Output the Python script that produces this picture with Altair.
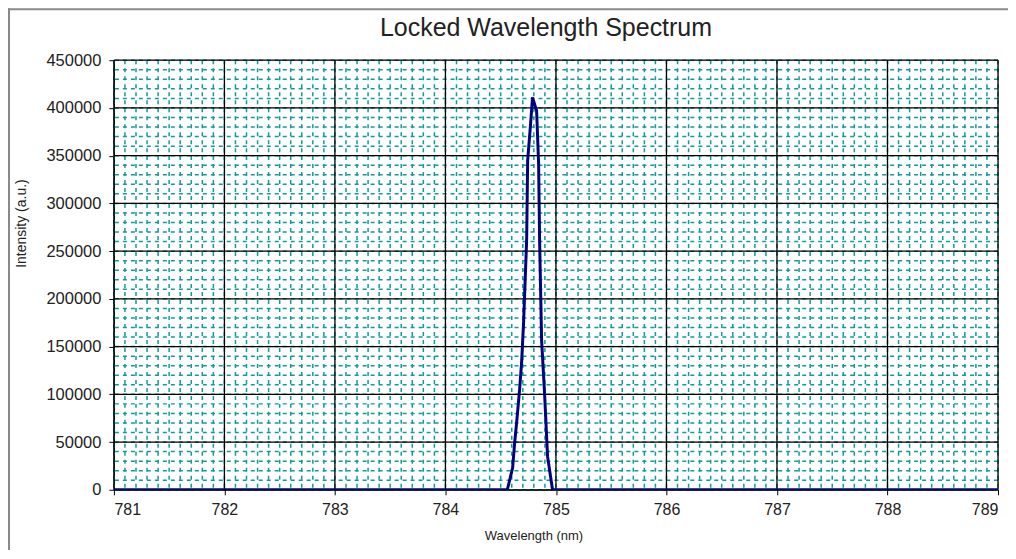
import altair as alt
import pandas as pd

# ---- data ----
wavelength = [781.0, 784.56, 784.608, 784.626, 784.644, 784.671, 784.689, 784.707,
              784.735, 784.744, 784.771, 784.788, 784.825, 784.843, 784.852,
              784.870, 784.897, 784.924, 784.969, 789.0]
intensity = [0, 0, 23000, 49000, 70000, 105000, 133000, 175000,
             262000, 345000, 384000, 411000, 397000, 342000, 262000,
             157000, 101000, 35000, 0, 0]

x_ticks = [781, 782, 783, 784, 785, 786, 787, 788, 789]
y_ticks = [0, 50000, 100000, 150000, 200000, 250000, 300000, 350000, 400000, 450000]

X_MIN, X_MAX = 781, 789
Y_MIN, Y_MAX = 0, 450000

df = pd.DataFrame({"wl": wavelength, "inten": intensity})

W, H = 885, 430
FONT = "Liberation Sans"
TEAL = "#139a9a"

xscale = alt.Scale(domain=[X_MIN, X_MAX], nice=False, zero=False)
yscale = alt.Scale(domain=[Y_MIN, Y_MAX], nice=False)

xaxis = alt.Axis(values=x_ticks, title="Wavelength (nm)", format="d",
                 grid=False, tickSize=5, tickColor="#000", domainColor="#000",
                 labelFontSize=16, labelColor="#222", labelFont=FONT,
                 labelPadding=7, titleFont=FONT, titleFontSize=13,
                 titleFontWeight="normal", titleColor="#222",
                 titleX=420, titleY=46, titleBaseline="middle", titleAlign="center")
yaxis = alt.Axis(values=y_ticks, title="Intensity (a.u.)", format="d",
                 grid=False, tickSize=5, tickColor="#000", domainColor="#000",
                 labelFontSize=16.5, labelColor="#222", labelFont=FONT,
                 labelPadding=8, titleFont=FONT, titleFontSize=14,
                 titleFontWeight="normal", titleColor="#222",
                 titleX=-92, titleY=163, titleBaseline="middle", titleAlign="center",
                 titleAngle=270)

minor_v = alt.Chart(alt.sequence(X_MIN, X_MAX + 0.01, 0.1, as_="wl")).mark_rule(
    color=TEAL, strokeWidth=1.5, strokeDash=[4, 4]
).encode(x=alt.X("wl:Q", scale=xscale, axis=xaxis))

minor_h = alt.Chart(alt.sequence(Y_MIN, Y_MAX + 1, 10000, as_="inten")).mark_rule(
    color=TEAL, strokeWidth=1.5, strokeDash=[4, 4]
).encode(y=alt.Y("inten:Q", scale=yscale, axis=yaxis))

major_v = alt.Chart(pd.DataFrame({"wl": x_ticks})).mark_rule(
    color="#000000", strokeWidth=1.3
).encode(x=alt.X("wl:Q", scale=xscale, axis=xaxis))

major_h = alt.Chart(pd.DataFrame({"inten": y_ticks})).mark_rule(
    color="#000000", strokeWidth=1.3
).encode(y=alt.Y("inten:Q", scale=yscale, axis=yaxis))

line = alt.Chart(df).mark_line(color="#000080", strokeWidth=3, clip=True).encode(
    x=alt.X("wl:Q", scale=xscale, axis=xaxis),
    y=alt.Y("inten:Q", scale=yscale, axis=yaxis),
    order="wl:Q",
)

frame_top = alt.Chart(pd.DataFrame({"a": [0]})).mark_rule(color="#8a8a8a", strokeWidth=2).encode(
    x=alt.value(-106), x2=alt.value(W + 20), y=alt.value(-51)
)
frame_left = alt.Chart(pd.DataFrame({"a": [0]})).mark_rule(color="#8a8a8a", strokeWidth=2).encode(
    x=alt.value(-105), y=alt.value(-52), y2=alt.value(H + 80)
)

chart = alt.layer(minor_v, minor_h, major_v, major_h, line, frame_top, frame_left).properties(
    width=W, height=H,
    autosize=alt.AutoSizeParams(type="none"),
    padding={"left": 106, "top": 52, "right": 10, "bottom": 60},
    title=alt.TitleParams("Locked Wavelength Spectrum", font=FONT, fontSize=25,
                          fontWeight="normal", color="#222", anchor="middle",
                          frame="group", dx=-10, offset=-34),
).configure_view(stroke="#8a8a8a", strokeWidth=1).configure(background="white")

chart.save("out.html", embed_options={"renderer": "svg", "actions": False})
